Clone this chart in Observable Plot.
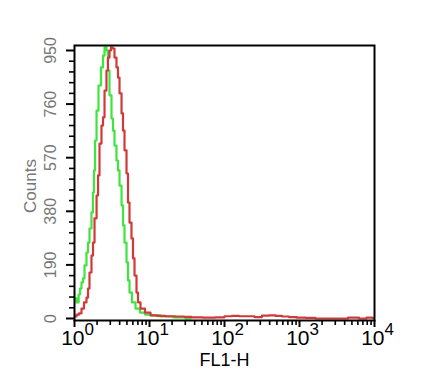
<!DOCTYPE html>
<html>
<head>
<meta charset="utf-8">
<script src="https://cdn.jsdelivr.net/npm/d3@7"></script>
<script src="https://cdn.jsdelivr.net/npm/@observablehq/plot@0.6"></script>
<style>
  html, body { margin: 0; padding: 0; background: #fff; }
  svg { display: block; }
</style>
</head>
<body>
<div id="chart"></div>
<script>
// FL1-H channel values (log axis) and counts
const greenFL1 = [1.03, 1.10, 1.17, 1.20, 1.28, 1.32, 1.40, 1.49, 1.54, 1.63, 1.74, 1.79, 1.85, 1.91, 2.03, 2.15, 2.36, 2.44, 2.59, 2.75, 2.84, 3.02, 3.21, 3.31, 3.52, 3.74, 3.86, 4.11, 4.37, 4.50, 4.79, 5.09, 5.25, 5.58, 6.12, 6.92, 8.07, 9.40, 12.0, 16.4, 25.9, 35.2];
const greenCounts = [71, 57, 85, 106, 128, 142, 188, 234, 269, 319, 376, 447, 525, 631, 737, 826, 890, 932, 961, 950, 879, 791, 709, 666, 613, 560, 525, 471, 401, 330, 269, 199, 135, 92, 57, 35, 21, 14, 11, 7, 4, 0];

const redFL1 = [1.03, 1.10, 1.20, 1.28, 1.40, 1.49, 1.54, 1.63, 1.74, 1.79, 1.91, 2.03, 2.09, 2.22, 2.36, 2.44, 2.59, 2.75, 2.84, 3.02, 3.11, 3.31, 3.52, 3.74, 3.86, 4.11, 4.37, 4.50, 4.79, 5.09, 5.25, 5.58, 5.93, 6.12, 6.51, 6.92, 7.13, 8.07, 9.40, 11.3, 14.0, 19.1, 25.9, 32.1, 41.1, 65.1, 88.4, 113, 140, 174, 222, 284, 352, 437, 525, 651, 807, 1031, 1401, 1905, 3522, 5581, 6918, 8841, 9697];
const redCounts = [7, 14, 18, 35, 57, 74, 106, 163, 223, 269, 355, 436, 507, 620, 684, 713, 808, 879, 925, 950, 961, 957, 925, 890, 854, 798, 727, 666, 596, 514, 411, 340, 284, 213, 152, 92, 57, 35, 21, 11, 9, 8, 7, 6, 4, 3, 4, 8, 9, 8, 8, 5, 10, 11, 9, 7, 5, 3, 2, 0, 0, 3, 0, 3, 2];

const yTicks = [0, 190, 380, 570, 760, 950];
const xDecades = [1, 10, 100, 1000, 10000];
const xExponents = ["0", "1", "2", "3", "4"];

const green = greenFL1.map((x, i) => ({x, y: greenCounts[i]}));
const red = redFL1.map((x, i) => ({x, y: redCounts[i]}));
const yMinor = d3.range(0, 951, 38).filter(v => !yTicks.includes(v));
const xMinor = [];
for (const d of xDecades.slice(0, -1)) for (let k = 2; k <= 9; k++) xMinor.push(d * k);

const W = 436, H = 389, ML = 74, MR = 62, MT = 45, MB = 69;
const FW = W - ML - MR, FH = H - MT - MB;
const font = "Liberation Sans, Arial, sans-serif";

const chart = Plot.plot({
  width: W, height: H,
  marginLeft: ML, marginRight: MR, marginTop: MT, marginBottom: MB,
  x: {type: "log", domain: [1, 10000], axis: null},
  y: {domain: [-7.1, 967.7], axis: null},
  style: {fontFamily: font, background: "#fff"},
  marks: [
    Plot.line(green, {x: "x", y: "y", curve: "step", stroke: "#3fe43f", strokeWidth: 2.2}),
    Plot.line(red, {x: "x", y: "y", curve: "step", stroke: "#d23a3a", strokeWidth: 2.2}),
    Plot.frame({stroke: "#000", strokeWidth: 2}),
    // x ticks (below frame)
    Plot.ruleX(xDecades, {x: d => d, insetTop: FH, insetBottom: -7, stroke: "#000", strokeWidth: 2}),
    Plot.ruleX(xMinor, {x: d => d, insetTop: FH, insetBottom: -5, stroke: "#000", strokeWidth: 1.6}),
    // y ticks (left of frame)
    Plot.ruleY(yTicks, {y: d => d, insetRight: FW, insetLeft: -8, stroke: "#000", strokeWidth: 2}),
    Plot.ruleY(yMinor, {y: d => d, insetRight: FW, insetLeft: -5, stroke: "#000", strokeWidth: 1.6}),
    // x tick labels 10^n
    Plot.text(xDecades, {x: d => d, text: () => "10", frameAnchor: "bottom", dy: 24, dx: 10, textAnchor: "end", fontSize: 21, fill: "#000"}),
    Plot.text(xDecades, {x: d => d, text: (d, i) => xExponents[i], frameAnchor: "bottom", dy: 14, dx: 10, textAnchor: "start", fontSize: 17, fill: "#000"}),
    Plot.text(["FL1-H"], {text: d => d, frameAnchor: "bottom", dy: 45, fontSize: 18, fill: "#000"}),
    // y tick labels (rotated)
    Plot.text(yTicks, {y: d => d, text: d => String(d), frameAnchor: "left", textAnchor: "middle", dx: -24, rotate: -90, fontSize: 16, fill: "#777"}),
    Plot.text(["Counts"], {text: d => d, frameAnchor: "left", textAnchor: "middle", dx: -44, dy: 3, rotate: -90, fontSize: 17, fill: "#777"})
  ]
});
document.getElementById("chart").appendChild(chart);
</script>
</body>
</html>
